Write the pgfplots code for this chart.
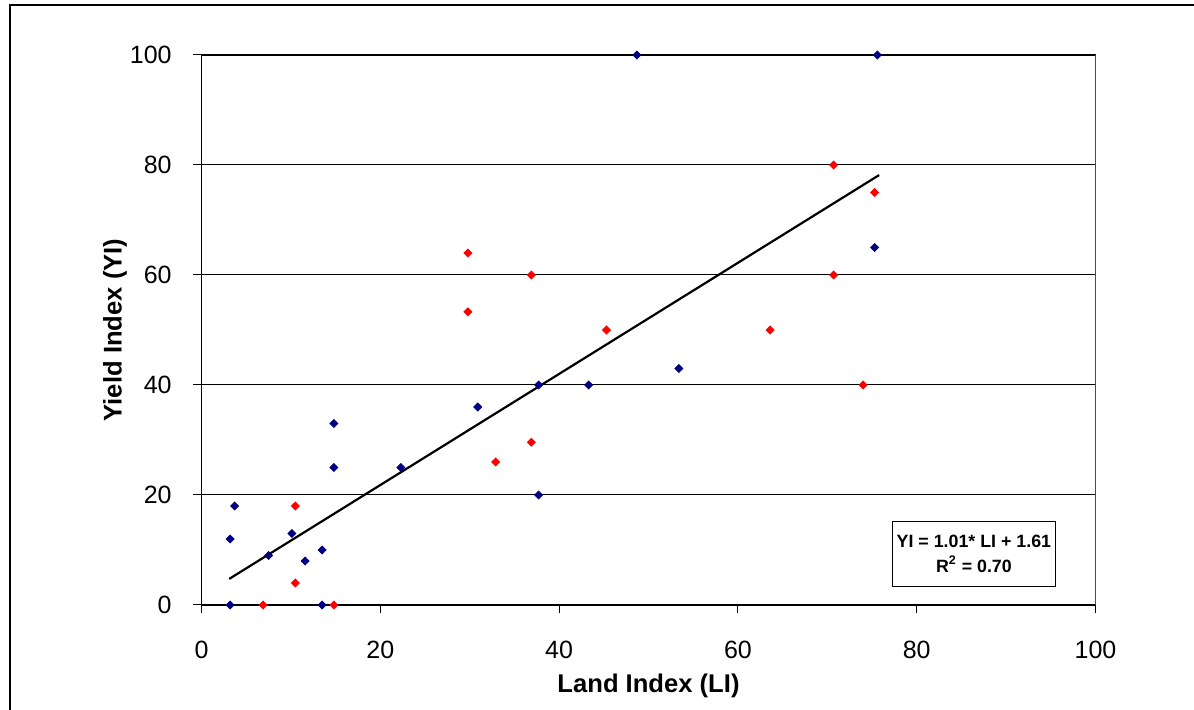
\documentclass[border=0pt]{standalone}
\usepackage{fontspec}
\setmainfont{Liberation Sans}
\usepackage{pgfplots}
\pgfplotsset{compat=1.18}
\definecolor{navyb}{RGB}{0,0,128}
\begin{document}
\begin{tikzpicture}
\useasboundingbox (0,0) rectangle (597pt,355pt);
\draw[line width=1pt] (5pt,-10pt) -- (5pt,352.5pt) -- (610pt,352.5pt);
\begin{axis}[
  at={(100.75pt,52.5pt)}, anchor=south west,
  scale only axis, width=447pt, height=275pt,
  xmin=0, xmax=100, ymin=0, ymax=100,
  xtick={0,20,...,100}, ytick={0,20,...,100},
  tick align=outside, xtick pos=left, ytick pos=left,
  major tick length=4pt,
  tick style={black, line width=0.5pt},
  ymajorgrids, grid style={black, line width=0.5pt},
  axis line style={black, line width=0.6pt},
  /pgf/number format/assume math mode=true,
  tick label style={font=\fontsize{12.5}{14}\selectfont, inner sep=0pt},
  xticklabel style={anchor=center, yshift=-18.5pt},
  yticklabel style={anchor=east, xshift=-10.75pt},
  xlabel={\textbf{Land Index (LI)}},
  ylabel={\textbf{Yield Index (YI)}},
  label style={font=\fontsize{12.8}{15}\selectfont},
  xlabel style={at={(axis description cs:0.5,0)}, anchor=center, yshift=-40.5pt},
  ylabel style={at={(axis description cs:0,0.5)}, anchor=center, yshift=43.25pt},
  clip=false,
]
\draw[gray!60!black, line width=0.8pt] (axis cs:100,0) -- (axis cs:100,100);
\addplot[black, line width=1.1pt] coordinates {(3.1,4.74) (75.8,78.17)};
\addplot[only marks, mark=square*, mark size=1.4pt, color=navyb, mark options={rotate=45}] coordinates {
(3.2,0) (3.2,12) (3.7,18) (7.5,9) (10.1,13) (11.6,8) (13.5,10) (13.5,0)
(14.8,33) (14.8,25) (22.3,25) (30.9,36) (37.7,40) (37.7,20) (43.3,40)
(53.4,43) (48.7,100) (75.6,100) (75.3,65)
};
\addplot[only marks, mark=square*, mark size=1.4pt, color=red, mark options={rotate=45}] coordinates {
(6.9,0) (10.5,18) (10.5,4) (14.8,0) (29.8,64) (29.8,53.3) (36.9,60)
(36.9,29.6) (32.9,26) (45.3,50) (63.6,50) (70.7,80) (70.7,60) (75.3,75) (74.0,40)
};
\node[draw=black, line width=0.5pt, fill=white, minimum width=81pt, minimum height=32.5pt,
  align=center, font=\fontsize{8.9}{12.5}\selectfont\bfseries, inner sep=2pt]
  at (axis cs:86.4,9.36) {YI = 1.01* LI + 1.61\\R\textsuperscript{2} = 0.70};
\end{axis}
\end{tikzpicture}
\end{document}
